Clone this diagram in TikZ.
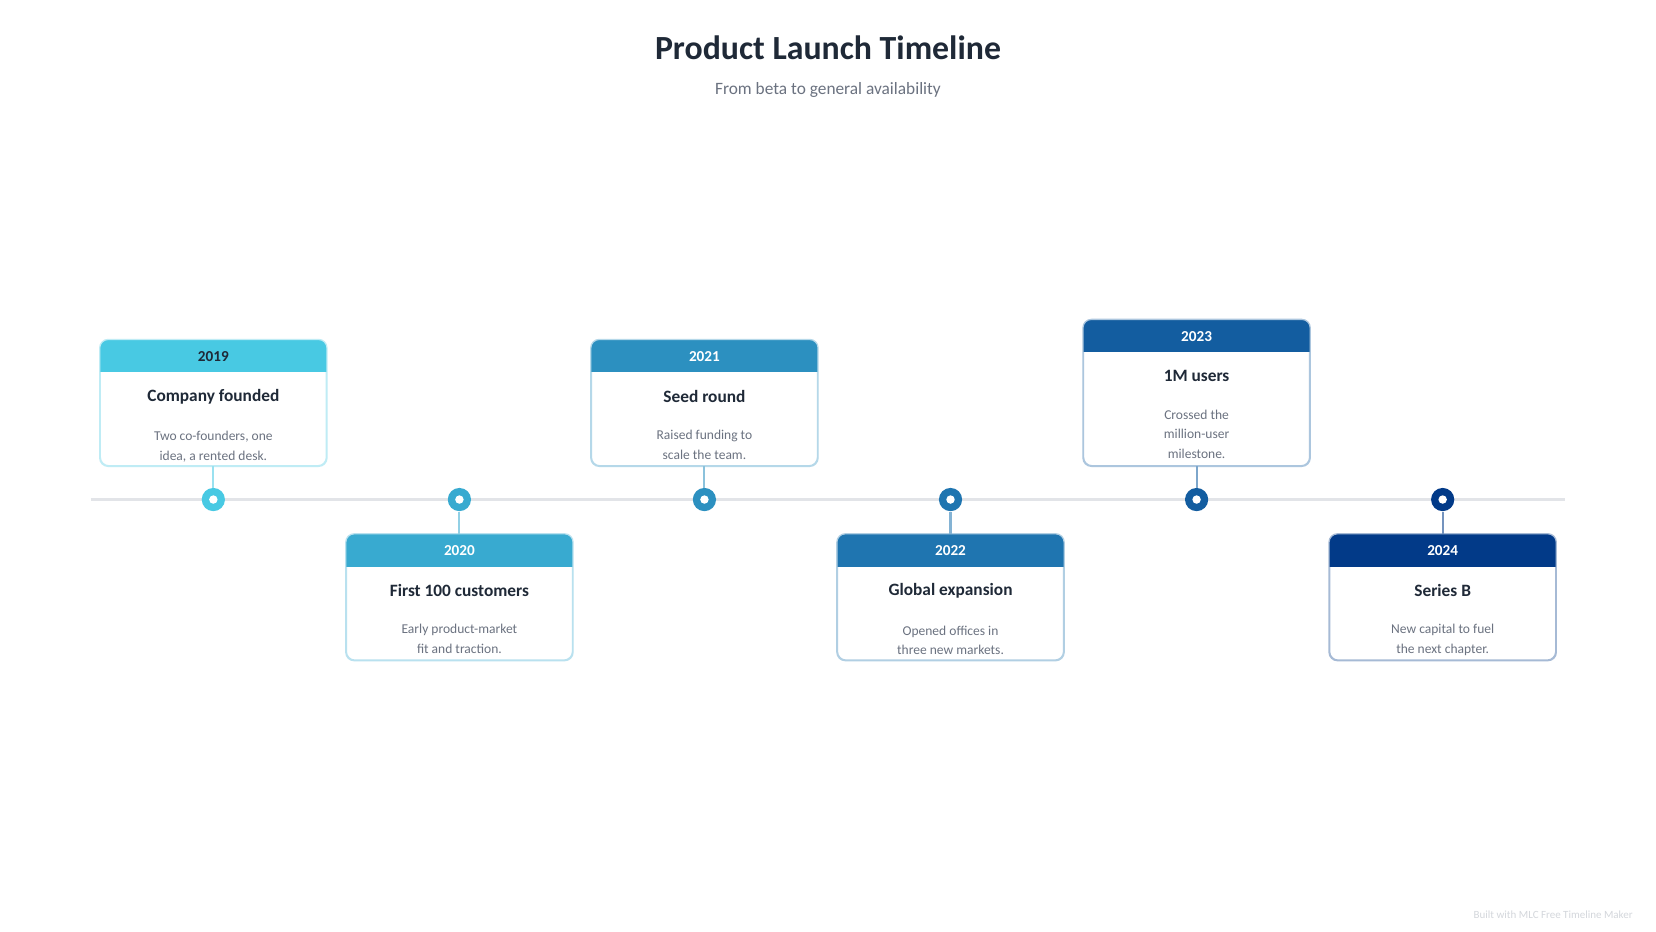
\documentclass[tikz,border=0pt]{standalone}
\usepackage{fontspec}
\setmainfont{Carlito}
\usetikzlibrary{positioning}
\definecolor{inkdark}{HTML}{1F2937}
\definecolor{inkgray}{HTML}{6B7280}
\definecolor{linegray}{HTML}{E2E4E8}
\definecolor{footgray}{HTML}{D4D7DC}
\definecolor{yrA}{HTML}{48C9E3}
\definecolor{yrB}{HTML}{38AAD0}
\definecolor{yrC}{HTML}{2C90C0}
\definecolor{yrD}{HTML}{1F75B0}
\definecolor{yrE}{HTML}{135DA0}
\definecolor{yrF}{HTML}{023A88}
\tikzset{
  card/.style={draw=#1!35, line width=0.6pt, fill=white, rounded corners=4pt,
    minimum width=107pt, inner sep=0pt},
  dot/.style={circle, fill=#1, minimum size=11pt, inner sep=0pt},
  stem/.style={draw=#1!55, line width=1pt},
  yeartext/.style={font=\bfseries\fontsize{7.2}{8}\selectfont},
  headtext/.style={font=\bfseries\fontsize{8.2}{9}\selectfont, text=inkdark},
  desctext/.style={font=\fontsize{6.4}{9.3}\selectfont, text=inkgray, align=center},
}
\begin{document}
\begin{tikzpicture}[x=0.5pt,y=-0.5pt]
  \useasboundingbox[fill=white] (0,0) rectangle (1568,882);
  % titles
  \node[font=\bfseries\fontsize{16}{18}\selectfont, text=inkdark] (title) at (784,45) {Product Launch Timeline};
  \node[font=\fontsize{8.2}{10}\selectfont, text=inkgray] (subtitle) at (784,85) {From beta to general availability};
  % axis
  \coordinate (axisL) at (86,473);
  \coordinate (axisR) at (1482,473);
  \draw[linegray, line width=1.6pt] (axisL) -- (axisR);
  % milestones: id/x/center y/height in pt/colour/year text colour/year/title/description
  \foreach \id/\px/\cy/\cardh/\col/\ycol/\yr/\ttl/\dsc in {
      1/202/381.5/59.5/yrA/inkdark/2019/Company founded/{Two co-founders, one\\idea, a rented desk.},
      2/435/565.5/59.5/yrB/white/2020/First 100 customers/{Early product-market\\fit and traction.},
      3/667/381.5/59.5/yrC/white/2021/Seed round/{Raised funding to\\scale the team.},
      4/900/565.5/59.5/yrD/white/2022/Global expansion/{Opened offices in\\three new markets.},
      5/1133/372/69/yrE/white/2023/1M users/{Crossed the\\million-user\\milestone.},
      6/1366/565.5/59.5/yrF/white/2024/Series B/{New capital to fuel\\the next chapter.}} {
    \node[card=\col, minimum height=\cardh pt] (card\id) at (\px,\cy) {};
    \begin{scope}
      \clip[rounded corners=4pt] (card\id.south west) rectangle (card\id.north east);
      \fill[\col] (card\id.north west) rectangle ([yshift=-15.5pt]card\id.north east);
    \end{scope}
    \draw[draw=\col!35, line width=0.6pt, rounded corners=4pt] (card\id.south west) rectangle (card\id.north east);
    \node[yeartext, text=\ycol] (year\id) at ([yshift=-8pt]card\id.north) {\yr};
    \node[headtext] (head\id) at ([yshift=-27pt]card\id.north) {\ttl};
    \node[desctext, anchor=north] (desc\id) at ([yshift=-6pt]head\id.south) {\dsc};
    \node[dot=\col] (dot\id) at (\px,473) {};
    \fill[white] (dot\id) circle (2pt);
  }
  % stems between cards and dots
  \draw[stem=yrA] (card1.south) -- (dot1.north);
  \draw[stem=yrB] (card2.north) -- (dot2.south);
  \draw[stem=yrC] (card3.south) -- (dot3.north);
  \draw[stem=yrD] (card4.north) -- (dot4.south);
  \draw[stem=yrE] (card5.south) -- (dot5.north);
  \draw[stem=yrF] (card6.north) -- (dot6.south);
  % footer
  \node[font=\fontsize{5.2}{6}\selectfont, text=footgray, anchor=east] (footer) at (1553,866) {Built with MLC Free Timeline Maker};
\end{tikzpicture}
\end{document}
